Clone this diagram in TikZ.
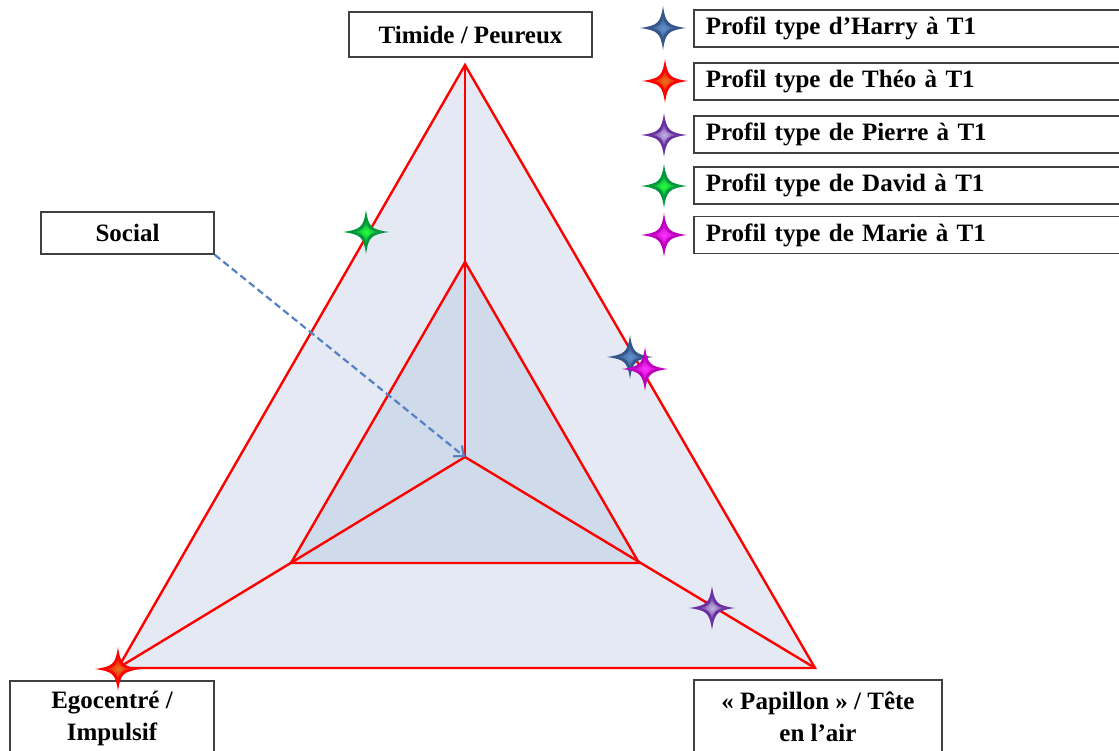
\documentclass[tikz,border=0pt]{standalone}
\usepackage{fontspec}
\setmainfont{Liberation Serif}
\usetikzlibrary{arrows.meta}
\definecolor{outerfill}{RGB}{228,233,243}
\definecolor{innerfill}{RGB}{207,219,234}
\definecolor{boxline}{RGB}{64,64,64}
\definecolor{arrowblue}{RGB}{84,130,196}
\definecolor{harryD}{RGB}{52,86,138}
\definecolor{harryL}{RGB}{100,145,205}
\definecolor{theoD}{RGB}{255,0,0}
\definecolor{theoL}{RGB}{225,120,30}
\definecolor{pierreD}{RGB}{105,50,160}
\definecolor{pierreL}{RGB}{195,180,225}
\definecolor{davidD}{RGB}{0,150,60}
\definecolor{davidL}{RGB}{40,255,60}
\definecolor{marieD}{RGB}{190,0,190}
\definecolor{marieL}{RGB}{255,50,255}
\tikzset{
  redline/.style={draw=red, line width=2.4pt},
  labelbox/.style={draw=boxline, line width=1.5pt, fill=white, font=\fontsize{25}{32}\selectfont\bfseries, align=center, inner sep=4pt},
  legendbox/.style={draw=boxline, line width=1.5pt, fill=white, font=\fontsize{25}{30}\selectfont\bfseries, anchor=west, minimum height=37pt, text width=420pt, align=left, inner xsep=12pt, inner ysep=0pt},
  pics/fstar/.style n args={2}{code={
    \fill[#1]
      (23,0) .. controls (5,2.5) and (2.5,5) .. (0,22)
      .. controls (-2.5,5) and (-5,2.5) .. (-23,0)
      .. controls (-5,-2.5) and (-2.5,-5) .. (0,-22)
      .. controls (2.5,-5) and (5,-2.5) .. (23,0) -- cycle;
    \shade[inner color=#2, outer color=#1]
      (13,0) .. controls (3,1.5) and (1.5,3) .. (0,12)
      .. controls (-1.5,3) and (-3,1.5) .. (-13,0)
      .. controls (-3,-1.5) and (-1.5,-3) .. (0,-12)
      .. controls (1.5,-3) and (3,-1.5) .. (13,0) -- cycle;
  }}
}
\begin{document}
\begin{tikzpicture}[x=1pt,y=-1pt]
\useasboundingbox (0,0) rectangle (1119,751);
\clip (0,0) rectangle (1119,751);
\fill[white] (0,0) rectangle (1119,751);

% coordinates
\coordinate (T) at (465,65);
\coordinate (L) at (118,668);
\coordinate (R) at (815,668);
\coordinate (t) at (465,262);
\coordinate (l) at (291,563);
\coordinate (r) at (639,563);
\coordinate (C) at (465,457);

% triangles
\filldraw[fill=outerfill, redline] (T) -- (L) -- (R) -- cycle;
\filldraw[fill=innerfill, redline] (t) -- (l) -- (r) -- cycle;
\draw[redline] (C) -- (T);
\draw[redline] (C) -- (L);
\draw[redline] (C) -- (R);

% axis labels
\node[labelbox, minimum width=243pt, minimum height=45pt] (timide) at (470.5,34.5) {Timide / Peureux};
\node[labelbox, minimum width=173pt, minimum height=42pt] (social) at (127.5,233) {Social};
\node[labelbox, minimum width=204pt, minimum height=74pt] (ego) at (112,718) {Egocentré /\\Impulsif};
\node[labelbox, minimum width=248pt, minimum height=74pt] (papillon) at (818,717) {« Papillon » / Tête\\en l’air};

% social arrow
\draw[arrowblue, line width=2.2pt, dash pattern=on 7pt off 4pt, -{Straight Barb[length=8pt,width=14pt]}] (social.south east) -- (C);

% stars on the diagram
\pic at (366,232) {fstar={davidD}{davidL}};
\pic at (630,357) {fstar={harryD}{harryL}};
\pic at (645,369) {fstar={marieD}{marieL}};
\pic at (712,608) {fstar={pierreD}{pierreL}};
\pic at (118,669) {fstar={theoD}{theoL}};

% legend
\node[legendbox] (lh) at (693,28.5) {Profil type d’Harry à T1};
\node[legendbox] (lt) at (693,81.5) {Profil type de Théo à T1};
\node[legendbox] (lp) at (693,134.5) {Profil type de Pierre à T1};
\node[legendbox] (ld) at (693,185.5) {Profil type de David à T1};
\node[legendbox] (lm) at (693,235) {Profil type de Marie à T1};
\pic at (663,28) {fstar={harryD}{harryL}};
\pic at (665,81) {fstar={theoD}{theoL}};
\pic at (664,135) {fstar={pierreD}{pierreL}};
\pic at (664,186) {fstar={davidD}{davidL}};
\pic at (664,235) {fstar={marieD}{marieL}};
\end{tikzpicture}
\end{document}
